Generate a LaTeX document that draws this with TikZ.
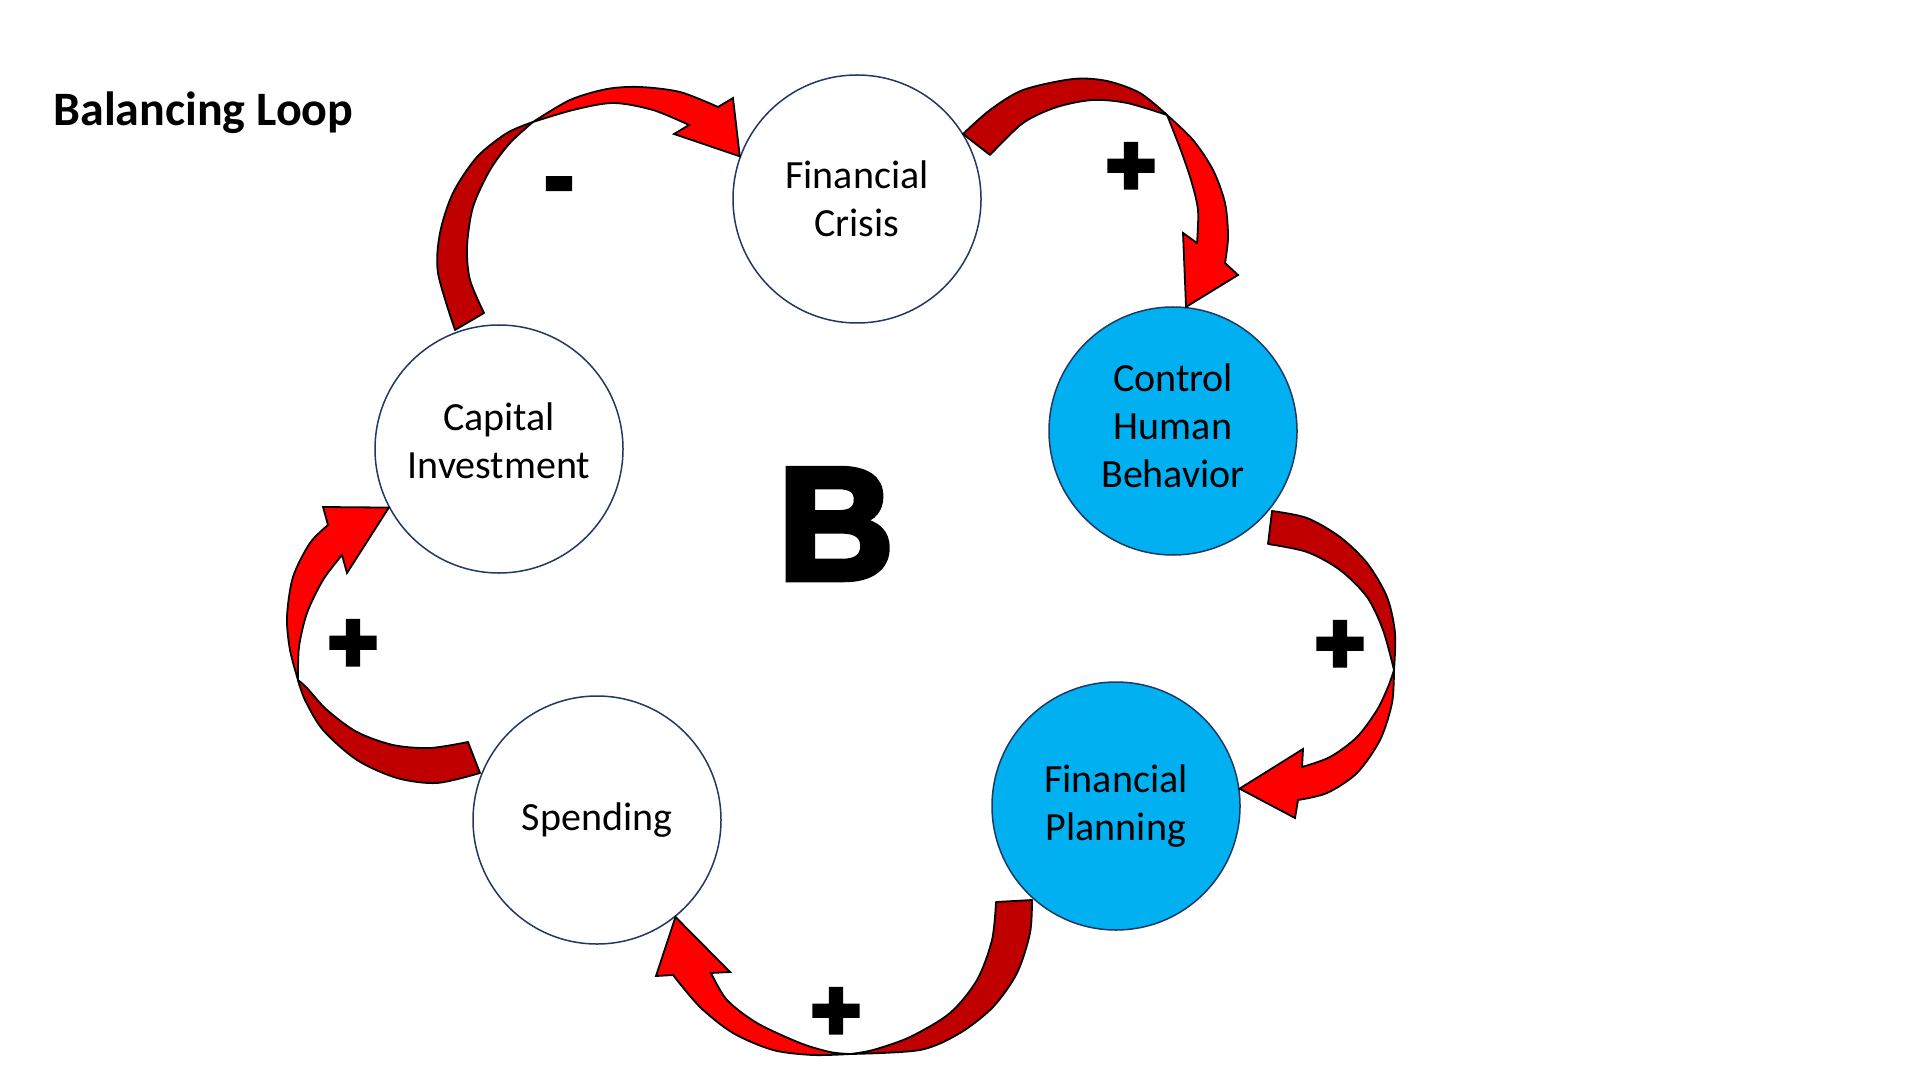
\documentclass[tikz,border=0pt]{standalone}
\usepackage{fontspec}
\setmainfont{Carlito}
\newfontfamily\heavyfont[BoldFeatures={FakeBold=4}]{Liberation Sans}
\newfontfamily\signfont[BoldFeatures={FakeBold=6}]{Liberation Sans}
\definecolor{loopred}{HTML}{FF0000}
\definecolor{loopdark}{HTML}{C00000}
\definecolor{loopblue}{HTML}{00B0F0}
\definecolor{loopline}{HTML}{203864}
\tikzset{
  factor/.style={circle, draw=loopline, line width=0.75pt, fill=white, minimum size=124pt,
    inner sep=0pt, align=center, font=\fontsize{20}{24}\selectfont},
  lever/.style={factor, fill=loopblue},
  backband/.style={fill=loopdark, draw=black, line width=0.9pt, line join=round},
  frontband/.style={fill=loopred, draw=black, line width=0.9pt},
  polarity/.style={inner sep=0pt, font=\signfont\bfseries\fontsize{42}{42}\selectfont},
}
\begin{document}
\begin{tikzpicture}[x=0.5pt,y=-0.5pt]
    \useasboundingbox (0,0) rectangle (1920,1080);
    % Titulo
    \node[anchor=base west, inner sep=0pt, font=\fontsize{24}{29}\selectfont\bfseries] (title) at (53,126) {Balancing Loop};
    % Factores del ciclo
    \node[factor] (crisis) at (857,199) {Financial\\Crisis};
    \node[lever, text depth=5pt] (control) at (1173,431) {Control\\Human\\Behavior};
    \node[lever] (planning) at (1116,806) {Financial\\Planning};
    \node[factor] (spending) at (597,820) {Spending};
    \node[factor, text depth=8pt] (capital) at (499,449) {Capital\\Investment};
    \node[inner sep=0pt, font=\heavyfont\bfseries\fontsize{80}{80}\selectfont] (loop) at (836,524) {B};
    % Flecha: capital -> crisis
    \filldraw[backband] plot[smooth] coordinates {(455,330) (438,273) (440,233) (453,193) (477,157) (507,133) (533,122)}
      -- plot[smooth] coordinates {(533,122) (510,143) (490,170) (473,207) (467,247) (470,280) (484,313)} -- cycle;
    \filldraw[frontband] plot[smooth] coordinates {(533,122) (570,100) (607,89) (640,87) (680,92) (718,107)}
      -- (733,98) -- (crisis.160) -- (674,134) -- (689,125)
      -- plot[smooth] coordinates {(689,125) (653,110) (613,103) (573,110) (533,122)} -- cycle;
    % Flecha: crisis -> control
    \filldraw[backband] plot[smooth] coordinates {(963,134) (990,110) (1023,90) (1073,79) (1107,81) (1140,93) (1167,115)}
      -- plot[smooth] coordinates {(1167,115) (1127,103) (1093,100) (1057,107) (1023,123) (990,155)} -- cycle;
    \filldraw[frontband] plot[smooth] coordinates {(1167,115) (1193,140) (1213,170) (1225,203) (1228,237) (1225,263)}
      -- (1238,275) -- (control.84) -- (1183,233) -- (1197,243)
      -- plot[smooth] coordinates {(1197,243) (1198,210) (1191,180) (1180,148) (1167,115)} -- cycle;
    % Flecha: control -> planning
    \filldraw[backband] plot[smooth] coordinates {(1272,511) (1307,518) (1340,537) (1367,563) (1387,597) (1395,633) (1394,670)}
      -- plot[smooth] coordinates {(1394,670) (1383,630) (1367,597) (1340,570) (1307,552) (1268,544)} -- cycle;
    \filldraw[frontband] plot[smooth] coordinates {(1394,670) (1392,703) (1380,740) (1357,773) (1327,793) (1298,800)}
      -- (1295,818) -- (planning.8) -- (1303,749) -- (1302,767)
      -- plot[smooth] coordinates {(1302,767) (1330,757) (1357,737) (1377,710) (1388,687) (1394,670)} -- cycle;
    % Flecha: planning -> spending
    \filldraw[backband] plot[smooth] coordinates {(1032,900) (1030,933) (1017,973) (993,1007) (960,1033) (920,1050) (850,1054)}
      -- plot[smooth] coordinates {(850,1054) (873,1050) (910,1037) (950,1013) (977,980) (992,940) (996,902)} -- cycle;
    \filldraw[frontband] plot[smooth] coordinates {(850,1054) (813,1055) (773,1050) (733,1033) (700,1007) (673,975)}
      -- (656,976) -- (spending.-51) -- (730,972) -- (711,973)
      -- plot[smooth] coordinates {(711,973) (727,1000) (757,1023) (800,1043) (830,1052) (850,1054)} -- cycle;
    % Flecha: spending -> capital
    \filldraw[backband] plot[smooth] coordinates {(480,773) (437,783) (397,778) (357,760) (323,730) (305,700) (298,680)}
      -- plot[smooth] coordinates {(298,680) (307,688) (327,710) (357,732) (393,745) (430,748) (468,742)} -- cycle;
    \filldraw[frontband] plot[smooth] coordinates {(298,680) (290,650) (287,617) (293,577) (310,543) (328,525)}
      -- (323,507) -- (capital.208) -- (347,573) -- (342,555)
      -- plot[smooth] coordinates {(342,555) (323,580) (307,613) (299,647) (298,680)} -- cycle;
    % Polaridades
    \node[polarity] (signA) at (559,192) {-};
    \node[polarity] (signB) at (1131,169) {+};
    \node[polarity] (signC) at (1340,647) {+};
    \node[polarity] (signD) at (836,1014) {+};
    \node[polarity] (signE) at (353,646) {+};
\end{tikzpicture}
\end{document}
